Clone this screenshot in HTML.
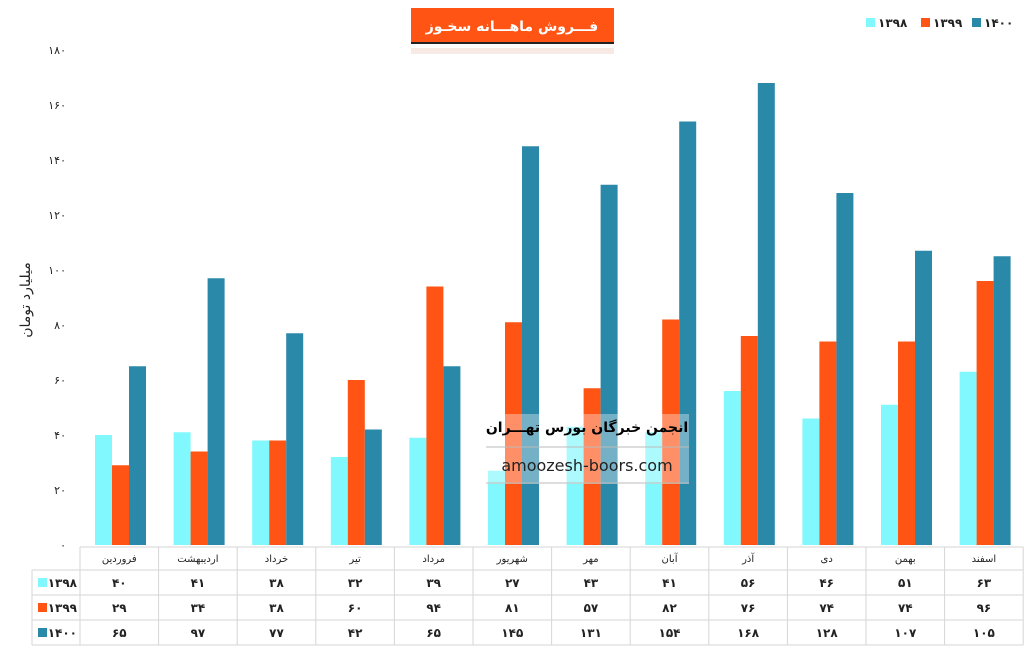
<!DOCTYPE html>
<html><head><meta charset="utf-8">
<style>
body{margin:0;background:#fff;width:1036px;height:663px;overflow:hidden;font-family:"Liberation Sans","Noto Sans CJK SC",sans-serif;}
svg text{font-family:"DejaVu Sans","Liberation Sans",sans-serif;}
</style></head>
<body>
<svg id="chart" width="1036" height="663" xmlns="http://www.w3.org/2000/svg"></svg>
<script>
const categories=["فروردین","اردیبهشت","خرداد","تیر","مرداد","شهریور","مهر","آبان","آذر","دی","بهمن","اسفند"];
const series1398=[40,41,38,32,39,27,43,41,56,46,51,63];
const series1399=[29,34,38,60,94,81,57,82,76,74,74,96];
const series1400=[65,97,77,42,65,145,131,154,168,128,107,105];
const seriesNames=["1398","1399","1400"];
const yTicks=[0,20,40,60,80,100,120,140,160,180];

const NS="http://www.w3.org/2000/svg";
const svg=document.getElementById('chart');
const colors=["#80f8fd","#ff5414","#2a88a8"];
const fa=s=>String(s).replace(/\d/g,d=>"۰۱۲۳۴۵۶۷۸۹"[d]);
function el(tag,attrs,parent){const e=document.createElementNS(NS,tag);for(const k in attrs)e.setAttribute(k,attrs[k]);(parent||svg).appendChild(e);return e;}
const x0=80,colW=78.6,yBase=545,yTop=50,yMax=180;
const y=v=>yBase-(v/yMax)*(yBase-yTop);
const xg=i=>x0+i*colW;

yTicks.forEach(t=>{
  const tx=el('text',{x:66,y:y(t)+4,'font-size':11,'text-anchor':'end',fill:'#222'});
  
  
  tx.textContent=fa(t);
});
const yl=el('text',{x:0,y:0,'font-size':14,'text-anchor':'middle',fill:'#222',transform:'translate(30,300) rotate(-90)'});


yl.textContent="میلیارد تومان";

const all=[series1398,series1399,series1400];
all.forEach((ser,s)=>{
  ser.forEach((v,i)=>{
    const r=el('rect',{x:xg(i)+15+s*17,y:y(v),width:17,height:yBase-y(v),fill:colors[s]});
    
    
  });
});

const tb=el('g',{});


const lc="#d6d6d6";
const tEnd=x0+12*colW;
el('line',{x1:x0,y1:547,x2:tEnd,y2:547,stroke:lc},tb);
[570,595,620,645].forEach(yy=>el('line',{x1:32,y1:yy,x2:tEnd,y2:yy,stroke:lc},tb));
el('line',{x1:32,y1:570,x2:32,y2:645,stroke:lc},tb);
for(let i=0;i<=12;i++)el('line',{x1:xg(i),y1:547,x2:xg(i),y2:645,stroke:lc},tb);
categories.forEach((c,i)=>{
  const t=el('text',{x:xg(i)+colW/2,y:562,'font-size':10,'text-anchor':'middle',fill:'#222'},tb);
  
  
  t.textContent=c;
});
all.forEach((ser,s)=>{
  const ry=570+s*25;
  const sw=el('rect',{x:38,y:ry+8,width:9,height:9,fill:colors[s]},tb);
  
  
  const lt=el('text',{x:77,y:ry+17,'font-size':12,'font-weight':'bold','text-anchor':'end',fill:'#222'},tb);
  
  
  lt.textContent=fa(seriesNames[s]);
  ser.forEach((v,i)=>{
    const t=el('text',{x:xg(i)+colW/2,y:ry+17,'font-size':12,'font-weight':'bold','text-anchor':'middle',fill:'#222'},tb);
    
    
    t.textContent=fa(v);
  });
});

const tg=el('g',{});


el('rect',{x:411,y:48,width:203,height:6,fill:'#f1dcd4',opacity:0.6},tg);
el('rect',{x:411,y:8,width:203,height:35,fill:'#ff5414'},tg);
el('rect',{x:411,y:42,width:203,height:2,fill:'#222'},tg);
const tt=el('text',{x:512,y:31,'font-size':14,'font-weight':'bold','text-anchor':'middle',fill:'#fff'},tg);
tt.textContent="فـــروش ماهـــانه سخـوز";

const lg=el('g',{});


[[866,0],[921,1],[972,2]].forEach(([lx,s])=>{
  el('rect',{x:lx,y:18,width:9,height:9,fill:colors[s]},lg);
  const t=el('text',{x:lx+12,y:27,'font-size':12,'font-weight':'bold',fill:'#222'},lg);
  t.textContent=fa(seriesNames[s]);
});

const wm=el('g',{});


el('rect',{x:486,y:414,width:203,height:70,fill:'#fff',opacity:0.35},wm);
const w1=el('text',{x:587,y:432,'font-size':14,'font-weight':'bold','text-anchor':'middle',fill:'#000'},wm);
w1.textContent="انجمن خبرگان بورس تهـــران";
el('line',{x1:486,y1:447,x2:689,y2:447,stroke:'#bbb'},wm);
const w2=el('text',{x:587,y:471,'font-size':16,'text-anchor':'middle',fill:'#222'},wm);
w2.setAttribute('font-family','Liberation Sans');
w2.textContent="amoozesh-boors.com";
el('line',{x1:486,y1:483,x2:689,y2:483,stroke:'#bbb'},wm);
</script>
</body></html>
